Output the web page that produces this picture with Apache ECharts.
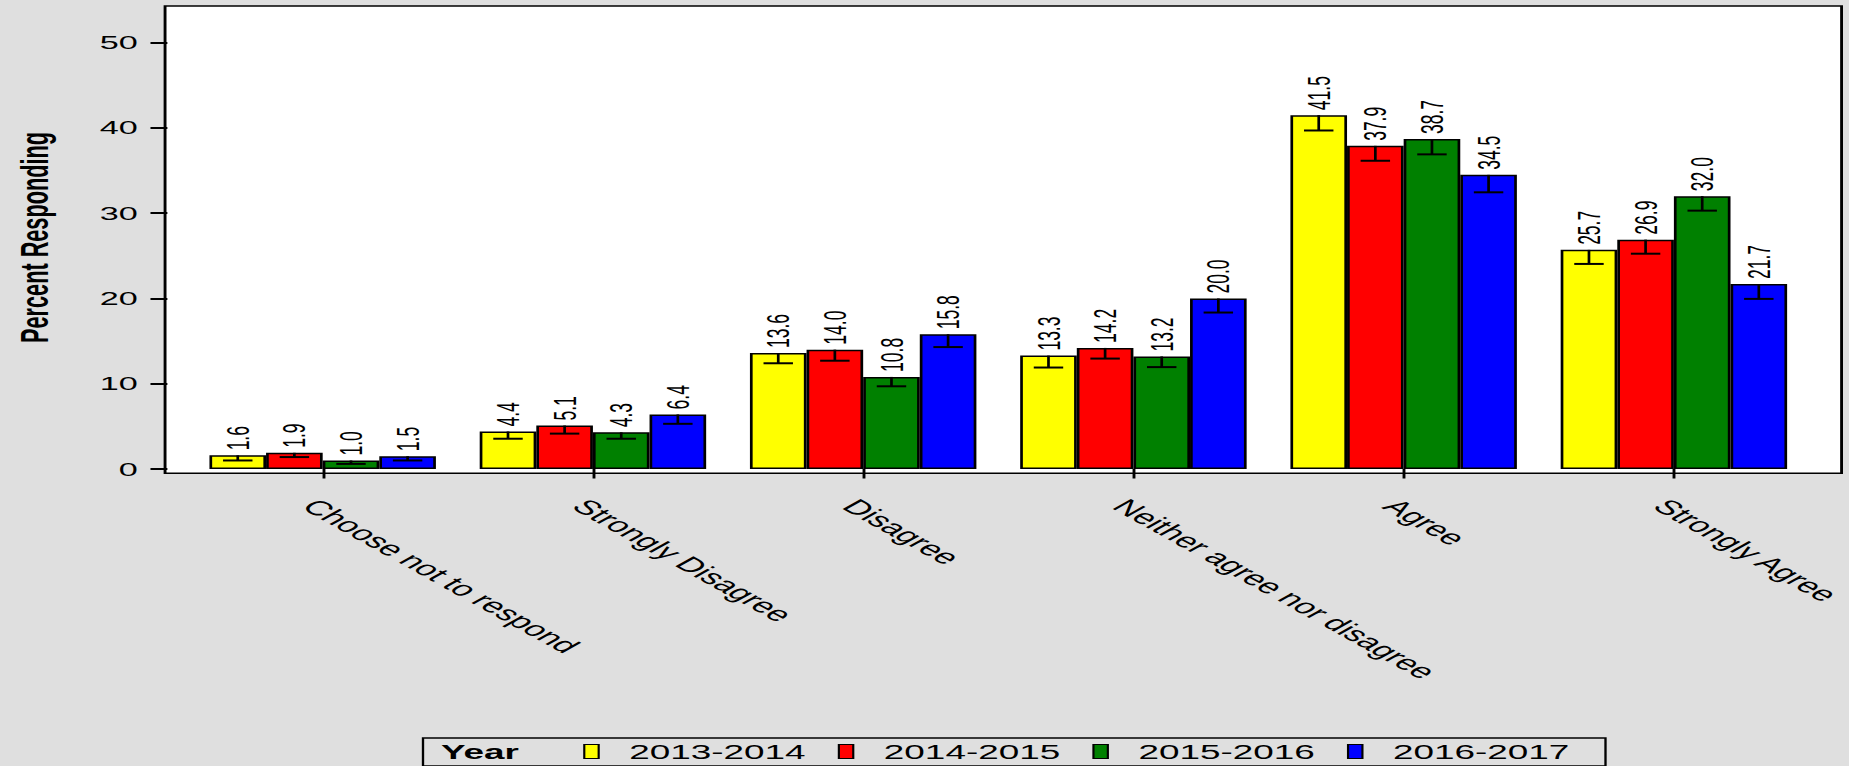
<!DOCTYPE html>
<html>
<head>
<meta charset="utf-8">
<script src="https://cdn.jsdelivr.net/npm/echarts@6/dist/echarts.min.js"></script>
<style>
  html, body { margin: 0; padding: 0; background: #dfdfdf; overflow: hidden; }
  #wrap { width: 1849px; height: 766px; overflow: hidden; background: #dfdfdf; }
  #chart { width: 1027.22px; height: 766px; transform: scaleX(1.8); transform-origin: 0 0; }
</style>
</head>
<body>
<div id="wrap"><div id="chart"></div></div>
<script>
// ---- data ----
const categories = ['Choose not to respond', 'Strongly Disagree', 'Disagree', 'Neither agree nor disagree', 'Agree', 'Strongly Agree'];
const years = ['2013-2014', '2014-2015', '2015-2016', '2016-2017'];
const y2013 = [1.6, 4.4, 13.6, 13.3, 41.5, 25.7];
const y2014 = [1.9, 5.1, 14.0, 14.2, 37.9, 26.9];
const y2015 = [1.0, 4.3, 10.8, 13.2, 38.7, 32.0];
const y2016 = [1.5, 6.4, 15.8, 20.0, 34.5, 21.7];
const err2013 = [0.6, 0.85, 1.2, 1.4, 1.8, 1.65];
const err2014 = [0.5, 0.95, 1.3, 1.25, 1.75, 1.65];
const err2015 = [0.4, 0.75, 1.1, 1.25, 1.8, 1.7];
const err2016 = [0.5, 1.1, 1.5, 1.65, 2.05, 1.75];
const yTicks = [0, 10, 20, 30, 40, 50];

const values = [y2013, y2014, y2015, y2016];
const errors = [err2013, err2014, err2015, err2016];
const colors = ['#ffff00', '#ff0000', '#008000', '#0000ff'];
const FONT = 'Liberation Sans, Arial, Helvetica, sans-serif';
const GAP = 0.162;

const chart = echarts.init(document.getElementById('chart'), null, { renderer: 'svg' });

function errRenderer(k) {
  return function (params, api) {
    const ci = api.value(0), v = api.value(1), e = api.value(2);
    const top = api.coord([ci, v]);
    const bot = api.coord([ci, v - e]);
    const band = api.size([1, 0])[0];
    const bw = band * (1 - GAP) / 4;
    const x = top[0] + (k - 1.5) * bw;
    const half = bw * 0.26;
    return {
      type: 'group',
      children: [
        { type: 'line', shape: { x1: x, y1: top[1], x2: x, y2: bot[1] }, style: { stroke: '#000', lineWidth: 1.5 } },
        { type: 'line', shape: { x1: x - half, y1: bot[1], x2: x + half, y2: bot[1] }, style: { stroke: '#000', lineWidth: 2 } }
      ]
    };
  };
}

const series = [];
years.forEach((y, k) => {
  series.push({
    name: y, type: 'bar', xAxisIndex: 1, yAxisIndex: 1,
    data: values[k], barGap: '0%', barCategoryGap: (GAP * 100) + '%',
    itemStyle: { color: colors[k], borderColor: '#000', borderWidth: 1.5 },
    label: {
      show: true, position: 'top', rotate: 90, align: 'left', verticalAlign: 'middle',
      distance: 5, fontFamily: FONT, fontSize: 17.5, color: '#000',
      formatter: p => p.value.toFixed(1)
    },
    emphasis: { disabled: true }, animation: false, z: 2
  });
});
years.forEach((y, k) => {
  series.push({
    name: 'err ' + y, type: 'custom', xAxisIndex: 1, yAxisIndex: 1,
    renderItem: errRenderer(k),
    encode: { x: 0, y: 1 },
    data: categories.map((c, i) => [i, values[k][i], errors[k][i]]),
    z: 4, animation: false, silent: true
  });
});

chart.setOption({
  backgroundColor: '#dfdfdf',
  animation: false,
  title: {
    text: 'Year', left: 245, top: 741, padding: 0,
    textStyle: { fontFamily: FONT, fontWeight: 'bold', fontSize: 20.5, color: '#000' }
  },
  legend: {
    data: years, left: 235, top: 738, orient: 'horizontal',
    padding: [3, 20, 4, 89], itemWidth: 8, itemHeight: 14, itemGap: 17.8,
    icon: 'rect', borderColor: '#000', borderWidth: 1.3,
    itemStyle: { borderColor: '#000', borderWidth: 1.2 },
    textStyle: { fontFamily: FONT, fontSize: 20.5, color: '#000', padding: [0, 0, 0, 12] },
    selectedMode: false
  },
  grid: [
    { left: 91.7, right: 3.9, top: 6, bottom: 292.7, show: true, backgroundColor: '#ffffff', borderColor: '#000', borderWidth: 1.6 },
    { left: 102.9, right: 11.9, top: 6, bottom: 297 }
  ],
  xAxis: [
    { gridIndex: 0, type: 'value', show: false, min: 0, max: 1 },
    {
      gridIndex: 1, type: 'category', data: categories, offset: 4.3,
      axisLine: { show: false },
      axisTick: { show: true, alignWithLabel: true, length: 9.5, lineStyle: { color: '#000', width: 1.6 } },
      axisLabel: {
        interval: 0, rotate: -45, margin: 22, verticalAlign: 'top',
        fontFamily: FONT, fontSize: 20.5, color: '#000'
      },
      splitLine: { show: false }
    }
  ],
  yAxis: [
    { gridIndex: 0, type: 'value', show: false, min: 0, max: 1 },
    {
      gridIndex: 1, type: 'value', min: 0, max: 54.3, interval: 10, offset: 11.2,
      name: 'Percent Responding', nameLocation: 'middle', nameRotate: 90, nameGap: 63,
      nameTextStyle: { fontFamily: FONT, fontWeight: 'bold', fontSize: 21.7, color: '#000' },
      axisLine: { show: false },
      axisTick: { show: true, length: 9.4, customValues: yTicks, lineStyle: { color: '#000', width: 2 } },
      axisLabel: { margin: 16.5, customValues: yTicks, fontFamily: FONT, fontSize: 19, color: '#000' },
      splitLine: { show: false }
    }
  ],
  series: series
});
</script>
</body>
</html>
